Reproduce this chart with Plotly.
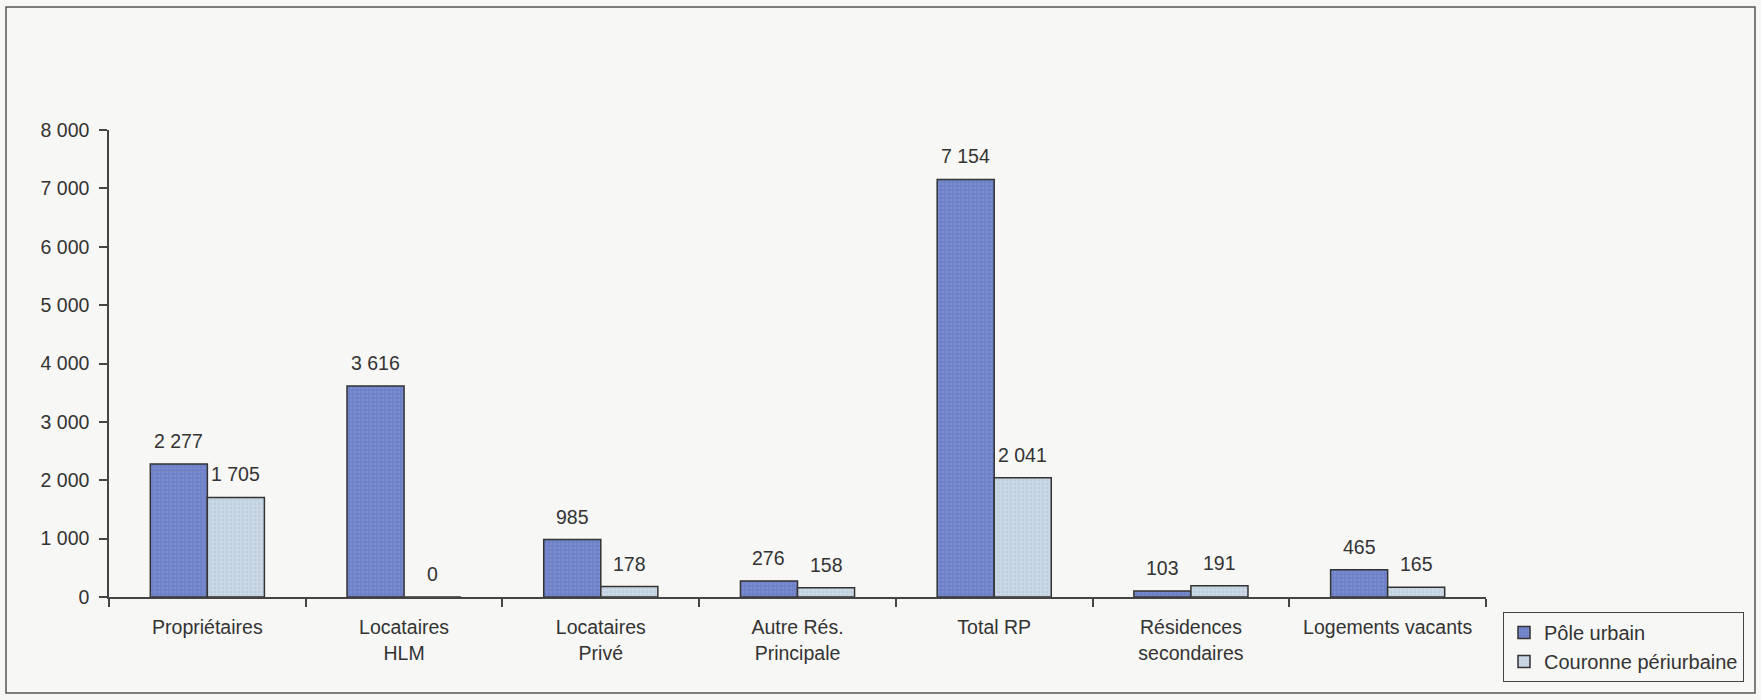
import plotly.graph_objects as go

categories = ["Propriétaires", "Locataires<br>HLM", "Locataires<br>Privé", "Autre Rés.<br>Principale",
              "Total RP", "Résidences<br>secondaires", "Logements vacants"]
pole_urbain = [2277, 3616, 985, 276, 7154, 103, 465]
couronne = [1705, 0, 178, 158, 2041, 191, 165]
series_names = ["Pôle urbain", "Couronne périurbaine"]
y_ticks = [0, 1000, 2000, 3000, 4000, 5000, 6000, 7000, 8000]

W, H = 1761, 700
L, R, T, B = 109, 1761 - 1486, 130, 700 - 597
pw, ph = W - L - R, H - T - B
BARGAP = 0.42
bar_px = pw / len(categories) * (1 - BARGAP) / 2

def px_x(x):
    return (x - L) / pw

def px_y(y):
    return (H - B - y) / ph

FAM = "Liberation Sans, Arial, Helvetica, sans-serif"
font = dict(family=FAM, size=19.5, color="#333333")

def fmt(v):
    return f"{v:,}".replace(",", " ")

fig = go.Figure()
fig.add_trace(go.Bar(
    x=categories, y=pole_urbain, name=series_names[0],
    marker=dict(color="#6f81c7", line=dict(color="#333333", width=1.5),
                pattern=dict(shape=".", fgcolor="#8797d6", size=4, solidity=0.3)),
))
fig.add_trace(go.Bar(
    x=categories, y=couronne, name=series_names[1],
    marker=dict(color="#cad8e6", line=dict(color="#333333", width=1.5),
                pattern=dict(shape=".", fgcolor="#b2c1d6", size=4, solidity=0.3)),
))

annotations = []
for series, shift in ((pole_urbain, -bar_px / 2), (couronne, bar_px / 2)):
    for c, v in zip(categories, series):
        annotations.append(dict(x=c, y=v, xref="x", yref="y", text=fmt(v), showarrow=False,
                                xshift=shift, yshift=10, yanchor="bottom", font=font))

fig.update_layout(
    width=W, height=H,
    margin=dict(l=L, r=R, t=T, b=B, autoexpand=False),
    paper_bgcolor="#f7f7f5", plot_bgcolor="#f7f7f5",
    separators=", ",
    barmode="group", bargap=BARGAP, bargroupgap=0,
    font=font,
    showlegend=True,
    legend=dict(x=px_x(1744), y=px_y(612), xanchor="right", yanchor="top",
                bordercolor="#444444", borderwidth=1, bgcolor="rgba(0,0,0,0)",
                font=dict(family=FAM, size=20, color="#333333"),
                itemwidth=30, tracegroupgap=0),
    xaxis=dict(showline=True, linecolor="#444444", linewidth=1.5, ticks="outside",
               tickson="boundaries", ticklen=8, tickcolor="#444444", tickwidth=1.5,
               showgrid=False, tickfont=font, range=[-0.5, 6.5], ticklabelstandoff=12),
    yaxis=dict(range=[0, 8000], tickvals=y_ticks, tickformat=",", showline=True,
               linecolor="#444444", linewidth=1.5, ticks="outside", ticklen=8,
               tickcolor="#444444", tickwidth=1.5, showgrid=False, zeroline=False,
               tickfont=font, ticklabelstandoff=6),
    annotations=annotations,
    shapes=[dict(type="rect", xref="paper", yref="paper",
                 x0=px_x(6), x1=px_x(1755), y0=px_y(693), y1=px_y(7),
                 line=dict(color="#555555", width=1.5), fillcolor="rgba(0,0,0,0)", layer="below")],
)

fig.write_html("out.html")
